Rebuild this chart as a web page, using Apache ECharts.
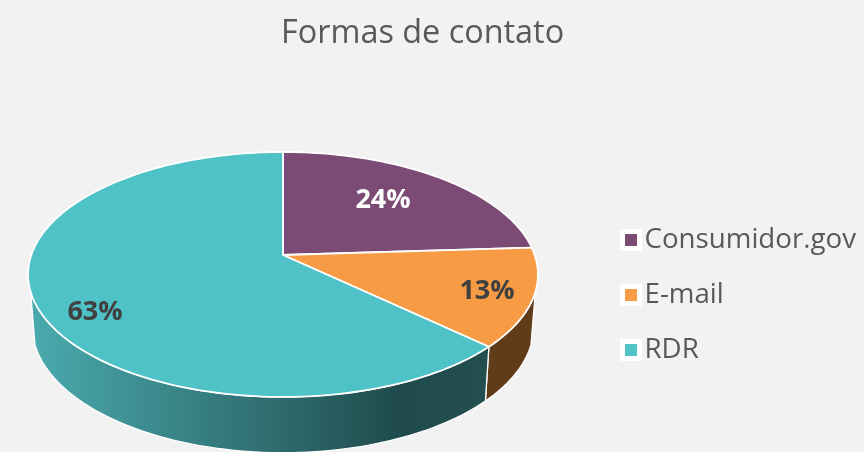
<!DOCTYPE html>
<html>
<head>
<meta charset="utf-8">
<script src="https://cdn.jsdelivr.net/npm/echarts@6/dist/echarts.min.js"></script>
<style>
  html, body { margin: 0; padding: 0; background: #f2f2f2; }
  #chart { width: 864px; height: 452px; }
</style>
</head>
<body>
<div id="chart"></div>
<script>
const titleText = "Formas de contato";
const categories = ["Consumidor.gov", "E-mail", "RDR"];
const values = [24, 13, 63];

const topColors = ["#7b4b75", "#f79c45", "#4fc2c7"];
const labelColors = ["#ffffff", "#404040", "#404040"];
const labelCenters = [[383, 200], [487, 291], [95, 312]];
const FONT = "'Open Sans', 'Noto Sans', sans-serif";

// pie seen in perspective: a circle pushed through a projective map
const cx = 283, cy = 255, a = 251.7, b = 119.4, k = -0.159;
const wallDrop = 51.5, wallShrinkX = 0.983, wallStretchY = 1.03;
// angles where the top ellipse meets the wall silhouette
const wallStart = 107.2, wallEnd = 252.8;

function project(deg, r) {
  const t = deg * Math.PI / 180;
  const u = Math.sin(t) * r, v = -Math.cos(t) * r;
  const w = 1 + k * v;
  return [cx + a * u / w, cy + b * v / w];
}

function arc(from, to) {
  const pts = [];
  const n = Math.max(2, Math.ceil(Math.abs(to - from) / 1.5));
  for (let i = 0; i <= n; i++) pts.push(project(from + (to - from) * i / n, 1));
  return pts;
}

const total = values.reduce((s, v) => s + v, 0);
const starts = [];
values.reduce((s, v, i) => { starts[i] = s; return s + v; }, 0);

const wallFill = [
  "#000",
  "#613c19",
  new echarts.graphic.LinearGradient(28, 0, 490, 0, [
    { offset: 0, color: "#4aabaf" },
    { offset: 0.55, color: "#2e6a6c" },
    { offset: 0.8, color: "#1f4b4d" },
    { offset: 1, color: "#234f50" }
  ], true)
];

function renderSlice(i) {
  return function () {
    const from = starts[i] / total * 360;
    const to = (starts[i] + values[i]) / total * 360;
    const children = [];

    const wFrom = Math.max(from, wallStart), wTo = Math.min(to, wallEnd);
    if (wTo > wFrom) {
      const upper = arc(wFrom, wTo);
      const lower = upper.map(p => [
        cx + (p[0] - cx) * wallShrinkX,
        cy + wallDrop + (p[1] - cy) * wallStretchY
      ]).reverse();
      children.push({
        type: "polygon",
        shape: { points: upper.concat(lower) },
        style: { fill: wallFill[i], stroke: "#ffffff", lineWidth: 1.3, lineJoin: "round" }
      });
    }

    children.push({
      type: "polygon",
      shape: { points: [[cx, cy]].concat(arc(from, to)) },
      style: { fill: topColors[i], stroke: "#ffffff", lineWidth: 1.8, lineJoin: "round" }
    });

    children.push({
      type: "text",
      z2: 10,
      style: {
        x: labelCenters[i][0],
        y: labelCenters[i][1],
        text: values[i] + "%",
        fill: labelColors[i],
        font: "bold 27px " + FONT,
        align: "center",
        verticalAlign: "middle"
      }
    });
    return { type: "group", children: children };
  };
}

const chart = echarts.init(document.getElementById("chart"), null, { renderer: "canvas" });
chart.setOption({
  backgroundColor: "#f2f2f2",
  animation: false,
  title: {
    text: titleText,
    left: 281,
    top: 18,
    padding: 0,
    textStyle: { color: "#595959", fontSize: 32.4, fontWeight: "normal", fontFamily: FONT }
  },
  legend: {
    orient: "vertical",
    left: 620,
    top: 226,
    padding: 0,
    itemWidth: 17,
    itemHeight: 17,
    itemGap: 27,
    selectedMode: false,
    data: categories.map((name, i) => ({
      name: name,
      icon: "rect",
      itemStyle: { color: topColors[i], borderColor: "#ffffff", borderWidth: 5 }
    })),
    textStyle: { color: "#595959", fontSize: 27.7, lineHeight: 28, fontFamily: FONT }
  },
  series: categories.map((name, i) => ({
    type: "custom",
    name: name,
    coordinateSystem: "none",
    silent: true,
    data: [values[i]],
    itemStyle: { color: topColors[i] },
    renderItem: renderSlice(i)
  }))
});
</script>
</body>
</html>
